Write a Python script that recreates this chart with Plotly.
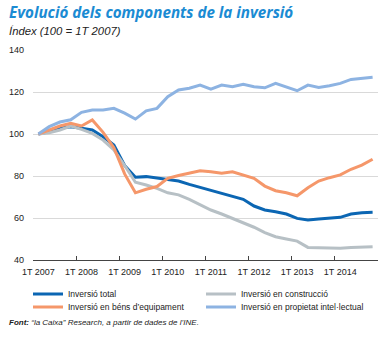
import plotly.graph_objects as go

years = ["2007", "2008", "2009", "2010", "2011", "2012", "2013", "2014"]
tick_labels = ["1T " + y for y in years]
quarters = list(range(32))

total = [100, 101, 102.7, 103.5, 102.7, 101.9, 98.7, 94.8, 85, 79.4, 79.7, 78.9,
         78.1, 77.6, 76, 74.6, 73.3, 71.8, 70.2, 68.9, 65.7, 63.8, 63, 61.9,
         59.8, 59, 59.5, 59.8, 60.3, 61.9, 62.5, 62.7]
construccio = [100, 100.6, 101.9, 103.8, 102.2, 100.3, 97.1, 92.4, 85, 77, 75.7, 74.1,
               72, 71, 68.9, 66.2, 63.8, 61.9, 59.8, 57.8, 55.6, 53, 51.1, 50,
               49, 46, 45.9, 45.6, 45.6, 45.9, 46, 46.3]
equipament = [100, 102, 103.8, 105.1, 103.8, 106.7, 100.8, 93.5, 81, 72, 73.7, 75,
              78.9, 80.2, 81.3, 82.5, 82, 81.3, 82, 80.5, 78.9, 75.2, 73, 72,
              70.6, 74.4, 77.6, 79.2, 80.5, 83.2, 85.2, 88]
intellectual = [100, 103.5, 105.7, 106.8, 110.3, 111.4, 111.4, 112.2, 109.9, 107.1, 111, 112.2,
                117.8, 121, 121.8, 123.3, 121.4, 123.3, 122.5, 123.7, 122.5, 122, 124.1, 122.5,
                120.6, 123.3, 122.2, 123, 124.1, 126, 126.5, 127]

series = [
    ("Inversió total", total, "#0b66b3", "legend"),
    ("Inversió en construcció", construccio, "#b7c0c5", "legend"),
    ("Inversió en béns d’equipament", equipament, "#f5976a", "legend2"),
    ("Inversió en propietat intel·lectual", intellectual, "#8db3e2", "legend2"),
]

FONT = "Liberation Sans, Arial, sans-serif"
fig = go.Figure()
for name, vals, col, lg in series:
    fig.add_trace(go.Scatter(x=quarters, y=vals, name=name, mode="lines",
                             line=dict(color=col, width=3), legend=lg))

# invisible trace for label axis
fig.add_trace(go.Scatter(x=[0], y=[40], xaxis="x2", mode="markers",
                         marker=dict(opacity=0), showlegend=False, hoverinfo="skip"))

L, R, T, B = 33, 10, 50, 78

def py(p):
    return (338 - B - p) / (338 - T - B)

def px(p):
    return (p - L) / (388 - L - R)

leg_common = dict(orientation="h", xanchor="left", yanchor="middle",
                  entrywidth=128, entrywidthmode="pixels", tracegroupgap=0,
                  font=dict(size=8.5, color="#222"), itemwidth=30, bgcolor="rgba(0,0,0,0)")

fig.update_layout(
    width=388, height=338,
    margin=dict(l=L, r=R, t=T, b=B, autoexpand=False),
    paper_bgcolor="white", plot_bgcolor="white",
    font=dict(family=FONT, size=9, color="#333333"),
    xaxis=dict(range=[-0.5, 31.5], tickmode="array",
               tickvals=[i * 4 - 0.5 for i in range(9)],
               showticklabels=False, ticks="inside", ticklen=4, tickcolor="#444",
               showgrid=False, zeroline=False, showline=True, linecolor="#444", linewidth=1),
    xaxis2=dict(overlaying="x", anchor="y", side="bottom", range=[-0.5, 31.5],
                tickmode="array", tickvals=[i * 4 for i in range(8)], ticktext=tick_labels,
                ticks="", showgrid=False, zeroline=False, showline=False,
                tickfont=dict(size=9, color="#222"), ticklabelstandoff=5),
    yaxis=dict(range=[40, 140], tickvals=[40, 60, 80, 100, 120, 140],
               showgrid=True, gridcolor="#d9d9d9", gridwidth=1, zeroline=False,
               ticks="", tickfont=dict(size=9, color="#222"), ticklabelstandoff=8),
    showlegend=True,
    legend=dict(x=px(28), y=py(294), **leg_common),
    legend2=dict(x=px(28), y=py(307), **leg_common),
)

fig.add_annotation(text="<b><i>Evolució dels components de la inversió</i></b>",
                   xref="paper", yref="paper", x=px(7), y=py(12), xanchor="left", yanchor="middle",
                   showarrow=False, font=dict(family="Open Sans, sans-serif", size=15.2, color="#1b8bd3"))
fig.add_annotation(text="<i>Índex (100 = 1T 2007)</i>",
                   xref="paper", yref="paper", x=px(7), y=py(31), xanchor="left", yanchor="middle",
                   showarrow=False, font=dict(family=FONT, size=11.3, color="#222"))
fig.add_annotation(text="<b><i>Font:</i></b><i> “la Caixa” Research, a partir de dades de l’INE.</i>",
                   xref="paper", yref="paper", x=px(7), y=py(322), xanchor="left", yanchor="middle",
                   showarrow=False, font=dict(family=FONT, size=8, color="#222"))

fig.write_html("out.html")
